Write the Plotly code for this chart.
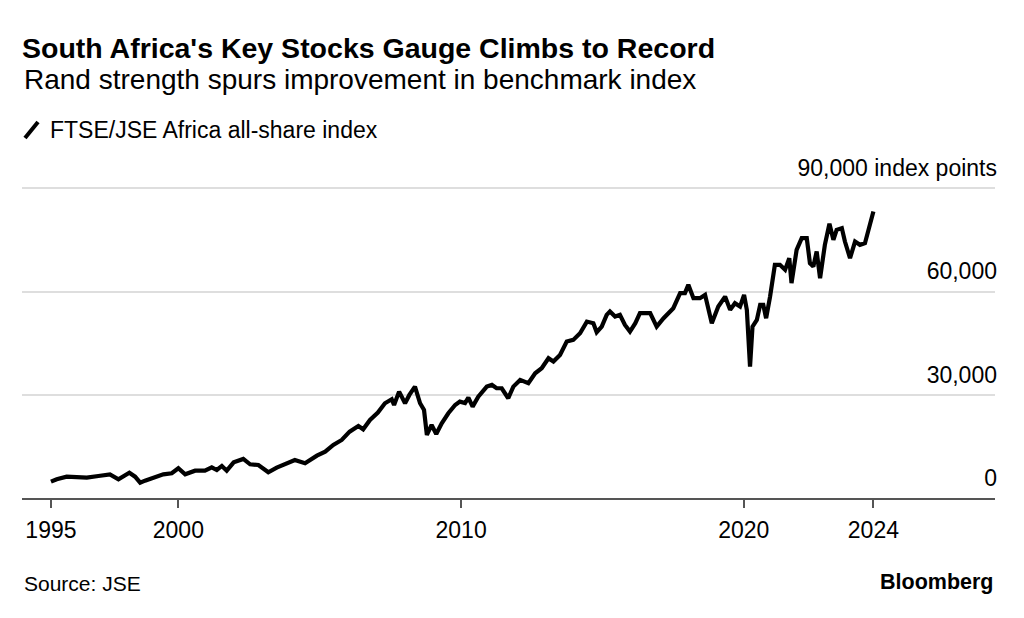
import plotly.graph_objects as go

# ---- data ----
dates = [
    "1995-06-30", "1995-09-13", "1996-01-19", "1996-05-30", "1996-10-05",
    "1997-03-04", "1997-07-31", "1997-11-18", "1998-04-08", "1998-06-21",
    "1998-08-26", "1998-10-27", "1999-01-22", "1999-06-21", "1999-10-08",
    "2000-01-01", "2000-03-29", "2000-08-04", "2000-12-09", "2001-03-08",
    "2001-05-12", "2001-07-16", "2001-09-17", "2001-12-16", "2002-04-19",
    "2002-07-16", "2002-10-31", "2003-03-08", "2003-06-25", "2003-10-31",
    "2004-02-14", "2004-06-25", "2004-11-25", "2005-03-12", "2005-06-25",
    "2005-10-12", "2006-01-22", "2006-05-15", "2006-07-16", "2006-10-12",
    "2007-01-22", "2007-04-23", "2007-07-20", "2007-08-19", "2007-10-23",
    "2008-01-08", "2008-03-04", "2008-05-15", "2008-07-20", "2008-09-09",
    "2008-10-16", "2008-12-16", "2009-02-14", "2009-04-26", "2009-07-20",
    "2009-10-16", "2009-12-16", "2010-02-21", "2010-04-05", "2010-05-30",
    "2010-08-11", "2010-11-29", "2011-02-03", "2011-04-05", "2011-06-10",
    "2011-09-02", "2011-11-07", "2012-02-03", "2012-05-19", "2012-08-15",
    "2012-11-07", "2013-02-03", "2013-04-08", "2013-07-02", "2013-09-27",
    "2013-12-20", "2014-03-18", "2014-06-14", "2014-09-06", "2014-10-19",
    "2014-12-23", "2015-02-25", "2015-04-08", "2015-06-14", "2015-08-15",
    "2015-10-19", "2015-12-23", "2016-03-01", "2016-04-30", "2016-09-09",
    "2016-12-02", "2017-03-01", "2017-04-30", "2017-07-05", "2017-10-01",
    "2017-12-02", "2018-01-15", "2018-03-22", "2018-06-14", "2018-08-19",
    "2018-11-14", "2019-02-06", "2019-05-05", "2019-07-09", "2019-09-09",
    "2019-11-14", "2020-01-05", "2020-02-10", "2020-03-22", "2020-04-23",
    "2020-06-18", "2020-07-31", "2020-09-09", "2020-10-16", "2020-12-06",
    "2021-02-06", "2021-04-12", "2021-06-18", "2021-08-11", "2021-09-09",
    "2021-11-14", "2022-01-19", "2022-03-25", "2022-05-05", "2022-06-18",
    "2022-07-31", "2022-09-13", "2022-11-14", "2023-01-12", "2023-03-04",
    "2023-04-15", "2023-06-21", "2023-07-31", "2023-10-05", "2023-12-09",
    "2024-02-10", "2024-04-15", "2024-05-30", "2024-07-08", "2024-08-02",
]

index_points = [
    5020, 5710, 6470, 6470, 6180,
    6670, 7150, 5710, 7630, 6470,
    4730, 5310, 6000, 7150, 7450,
    8900, 7150, 8200, 8200, 9190,
    8410, 9570, 8200, 10640, 11600,
    10060, 9860, 7740, 9080, 10150,
    11310, 10350, 12560, 13720, 15660,
    17110, 19520, 21170, 20210, 22910,
    25030, 27750, 28910, 27260, 31120,
    27750, 30160, 32570, 27750, 25810,
    18560, 21460, 18850, 21950, 24850,
    27260, 28220, 27800, 29400, 26770,
    29670, 32570, 33060, 32100, 32100,
    29200, 32570, 34510, 33550, 36450,
    37900, 40800, 39830, 41760, 45620,
    46110, 48050, 51420, 50950, 48340,
    49970, 53360, 54320, 52870, 53360,
    50460, 48520, 50950, 53850, 53850,
    49970, 52400, 53850, 55300, 59650,
    59650, 62060, 58200, 58200, 59160,
    50950, 55770, 58670, 54810, 56750,
    55770, 59160, 54810, 38370, 49970,
    51910, 56260, 56260, 52400, 58670,
    67860, 67860, 66410, 69800, 62550,
    72210, 75600, 75600, 68350, 67370,
    71720, 64000, 73660, 79750, 75110,
    78010, 78500, 74620, 69800, 74620,
    73660, 74140, 77520, 80910, 83320,
]

series_name = "FTSE/JSE Africa all-share index"

x_tick_vals = ["1995-06-30", "2000-01-01", "2010-01-01", "2020-01-01", "2024-08-02"]
x_tick_text = ["1995", "2000", "2010", "2020", "2024"]
y_tick_vals = [0, 30000, 60000, 90000]
y_tick_text = ["0", "30,000", "60,000", "90,000 index points"]

title = "South Africa's Key Stocks Gauge Climbs to Record"
subtitle = "Rand strength spurs improvement in benchmark index"
source = "Source: JSE"
brand = "Bloomberg"

FONT = "Liberation Sans, Arial, sans-serif"
W, H = 1024, 618
pl, pr, pt, pb = 22, 29, 185, 119
pw, ph = W - pl - pr, H - pt - pb

fig = go.Figure()
fig.add_trace(go.Scatter(
    x=dates, y=index_points, mode="lines", name=series_name,
    line=dict(color="#000000", width=4.2), showlegend=False,
    hoverinfo="x+y",
))

fig.update_layout(
    width=W, height=H,
    margin=dict(l=pl, r=pr, t=pt, b=pb),
    paper_bgcolor="#ffffff", plot_bgcolor="#ffffff",
    font=dict(family=FONT, color="#000000", size=22),
    title=dict(
        text="<b>" + title + "</b>",
        x=22 / W, xanchor="left", xref="container",
        y=1 - 48 / H, yanchor="middle", yref="container",
        font=dict(size=28.5, family=FONT, color="#000000"),
    ),
    xaxis=dict(
        type="date",
        anchor="free", position=0,
        range=["1994-06-21", "2028-11-20"],
        showgrid=False, zeroline=False,
        showline=True, linecolor="#555555", linewidth=2,
        ticks="outside", ticklen=8, tickwidth=1.5, tickcolor="#555555",
        tickvals=x_tick_vals, ticktext=x_tick_text,
        tickfont=dict(size=23, family=FONT, color="#000000"),
        ticklabelstandoff=2,
    ),
    yaxis=dict(
        side="right",
        range=[0, 91000],
        showgrid=True, gridcolor="#dedede", gridwidth=1.5,
        zeroline=False, showline=False, ticks="",
        tickvals=y_tick_vals, ticktext=y_tick_text,
        ticklabelposition="inside",
        ticklabeloverflow="allow",
        ticklabelshift=-21,
        ticklabelstandoff=-5,
        tickfont=dict(size=23, family=FONT, color="#000000"),
    ),
    showlegend=False,
)


def to_paper(px, py):
    return (px - pl) / pw, (H - pb - py) / ph


annotations = []
for text, px, py, anchor, size in [
    (subtitle, 22, 80, "left", 28),
    (series_name, 48, 130, "left", 23),
    (source, 22, 583, "left", 21),
    ("<b>" + brand + "</b>", 995, 582, "right", 21.5),
]:
    ax_, ay_ = to_paper(px, py)
    annotations.append(dict(
        text=text, x=ax_, y=ay_, xref="paper", yref="paper",
        xanchor=anchor, yanchor="middle", showarrow=False,
        font=dict(size=size, family=FONT, color="#000000"),
    ))
fig.update_layout(annotations=annotations)

# legend icon (slanted stroke)
x0, y0 = to_paper(25, 138)
x1, y1 = to_paper(38, 122)
fig.add_shape(type="line", xref="paper", yref="paper",
              x0=x0, x1=x1, y0=y0, y1=y1,
              line=dict(color="#000000", width=4))

fig.write_html("out.html")
